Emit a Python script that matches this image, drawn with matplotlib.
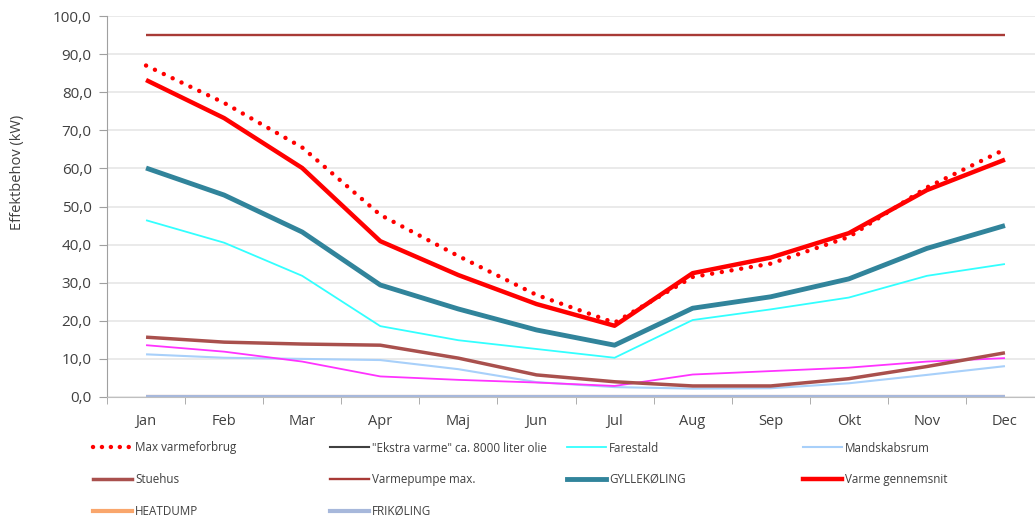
import numpy as np
import matplotlib as mpl
mpl.use('Agg')
import matplotlib.pyplot as plt
from matplotlib.lines import Line2D
from matplotlib.ticker import FuncFormatter, MultipleLocator

plt.rcParams['font.family'] = ['Open Sans', 'DejaVu Sans']

months = ["Jan", "Feb", "Mar", "Apr", "Maj", "Jun", "Jul", "Aug", "Sep", "Okt", "Nov", "Dec"]

max_varme = [87.0, 77.2, 65.5, 47.8, 37.0, 26.8, 19.5, 31.5, 35.0, 42.0, 55.0, 65.0]
ekstra_varme = [0.0] * 12
farestald = [46.4, 40.5, 31.8, 18.6, 14.9, 12.6, 10.3, 20.2, 23.0, 26.1, 31.8, 34.9]
mandskabsrum = [11.2, 10.3, 10.0, 9.7, 7.3, 3.9, 2.6, 2.2, 2.3, 3.6, 5.8, 8.1]
stuehus = [15.7, 14.4, 13.9, 13.6, 10.2, 5.8, 4.0, 2.9, 2.9, 4.8, 8.0, 11.6]
varmepumpe = [95.0] * 12
gylle = [60.1, 53.0, 43.3, 29.4, 23.1, 17.6, 13.6, 23.3, 26.3, 31.0, 39.0, 45.0]
varme_snit = [83.2, 73.2, 60.1, 40.9, 32.0, 24.4, 18.7, 32.5, 36.6, 43.0, 54.3, 62.3]
heatdump = [0.0] * 12
frikoling = [0.0] * 12
magenta = [13.6, 11.9, 9.3, 5.4, 4.5, 3.8, 2.9, 5.9, 6.8, 7.7, 9.3, 10.2]

fig = plt.figure(figsize=(10.35, 5.18), dpi=100)
ax = fig.add_axes([107/1035, 1 - 397/518, (1044 - 107)/1035, (397 - 16)/518])
x = np.arange(len(months))

# name, data, color, width
series = [
    ("FRIKØLING", frikoling, "#A7B8DB", 3.0),
    ("HEATDUMP", heatdump, "#F9A66C", 3.0),
    ('"Ekstra varme" ca. 8000 liter olie', ekstra_varme, "#404040", 1.5),
    ("Mandskabsrum", mandskabsrum, "#A8D0FA", 1.5),
    ("_magenta", magenta, "#FF33FF", 1.3),
    ("Stuehus", stuehus, "#A9504D", 2.5),
    ("Farestald", farestald, "#33FFFF", 1.3),
    ("GYLLEKØLING", gylle, "#31849B", 3.5),
    ("Varmepumpe max.", varmepumpe, "#A83A36", 1.7),
    ("Varme gennemsnit", varme_snit, "#FF0000", 3.2),
]
handles = {}
for name, vals, col, lw in series:
    ln, = ax.plot(x, vals, color=col, lw=lw, solid_capstyle='butt', zorder=3)
    handles[name] = ln
ln, = ax.plot(x, max_varme, color="#FF0000", lw=3.2, ls=(0, (0.01, 2.2)),
              dash_capstyle='round', zorder=4)
handles["Max varmeforbrug"] = ln
handles["FRIKØLING"].set_zorder(5)

ax.set_xlim(-0.5, 11.5)
ax.set_ylim(0, 100)
ax.yaxis.set_major_locator(MultipleLocator(10))
ax.yaxis.set_major_formatter(FuncFormatter(lambda v, p: f"{v:.1f}".replace(".", ",")))
ax.set_xticks(x)
ax.set_xticklabels(months)
ax.set_xticks(np.arange(-0.5, 12, 1), minor=True)
ax.tick_params(axis='x', which='major', length=0, pad=12, labelsize=10.5, colors="#404040")
ax.tick_params(axis='x', which='minor', length=5, color="#A0A0A0")
ax.tick_params(axis='y', length=6, color="#A0A0A0", labelsize=11, labelcolor="#404040", pad=5)
ax.grid(axis='y', color="#E6E6E6", lw=1.2, zorder=0)
ax.set_axisbelow(True)
for s in ["top", "right"]:
    ax.spines[s].set_visible(False)
ax.spines["left"].set_color("#A0A0A0")
ax.spines["bottom"].set_color("#BFBFBF")

fig.text(18/1035, 1 - 172/518, "Effektbehov (kW)", rotation=90, ha='center', va='center',
         fontsize=10.5, color="#404040")

columns = [
    ["Max varmeforbrug", "Stuehus", "HEATDUMP"],
    ['"Ekstra varme" ca. 8000 liter olie', "Varmepumpe max.", "FRIKØLING"],
    ["Farestald", "GYLLEKØLING"],
    ["Mandskabsrum", "Varme gennemsnit"],
]
col_x = [98, 335, 572, 808]
for cx, names in zip(col_x, columns):
    hs = []
    for n in names:
        h = handles[n]
        hs.append(Line2D([], [], color=h.get_color(), lw=h.get_linewidth(),
                         ls=h.get_linestyle(), dash_capstyle='round'))
    if names[0] == "Max varmeforbrug":
        hs[0] = Line2D([], [], color="#FF0000", lw=3.2, ls=(0, (0.01, 2.0)), dash_capstyle='round')
    leg = fig.legend(hs, names, loc='upper left', bbox_to_anchor=(cx/1035 - 0.008, 1 - 438/518),
                     frameon=False, fontsize=8.4, handlelength=3.3, handletextpad=0.3,
                     labelspacing=1.6, borderaxespad=0, borderpad=0.3)
    for t in leg.get_texts():
        t.set_color("#404040")

fig.savefig("out.png", dpi=100)
